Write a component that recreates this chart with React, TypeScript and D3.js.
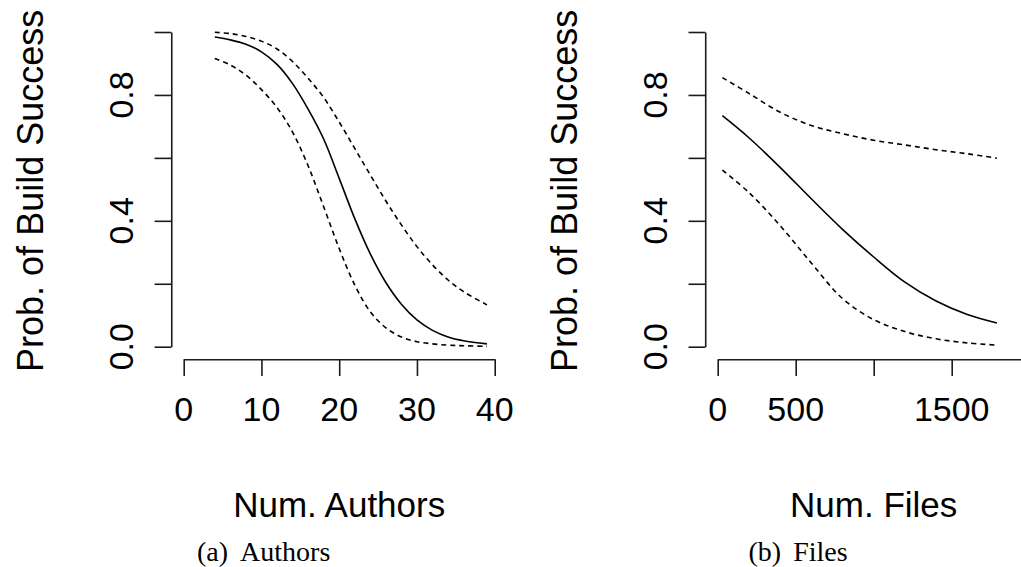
import React, { useEffect, useRef } from "react";
import * as d3 from "d3";

// left panel: number of authors
const authors = [4, 6, 8, 10, 12, 14, 16, 18, 20, 22, 24, 26, 28, 30, 32, 34, 36, 39];
const authorsFit = [0.984, 0.975, 0.961, 0.937, 0.897, 0.836, 0.755, 0.66, 0.535, 0.407, 0.295, 0.204, 0.135, 0.085, 0.052, 0.031, 0.019, 0.009];
const authorsUpper = [0.999, 0.995, 0.986, 0.971, 0.946, 0.906, 0.853, 0.792, 0.714, 0.63, 0.546, 0.463, 0.387, 0.318, 0.26, 0.212, 0.175, 0.133];
const authorsLower = [0.916, 0.895, 0.863, 0.817, 0.76, 0.682, 0.575, 0.445, 0.312, 0.196, 0.111, 0.06, 0.031, 0.016, 0.009, 0.005, 0.003, 0.001];

// right panel: number of files
const files = [30, 200, 400, 600, 800, 1000, 1200, 1400, 1600, 1790];
const filesFit = [0.734, 0.664, 0.57, 0.47, 0.373, 0.285, 0.205, 0.145, 0.102, 0.075];
const filesUpper = [0.855, 0.805, 0.745, 0.703, 0.677, 0.656, 0.641, 0.626, 0.613, 0.599];
const filesLower = [0.561, 0.49, 0.385, 0.266, 0.153, 0.086, 0.048, 0.025, 0.012, 0.005];

// ticks (R drops labels that would overlap)
const probTicks = [0, 0.2, 0.4, 0.6, 0.8, 1];
const probLabels = [0, 0.4, 0.8];
const authorTicks = [0, 10, 20, 30, 40];
const authorLabels = [0, 10, 20, 30, 40];
const fileTicks = [0, 500, 1000, 1500, 2000];
const fileLabels = [0, 500, 1500];

const SANS = "'Liberation Sans', Arial, Helvetica, sans-serif";
const SERIF = "'Liberation Serif', 'Times New Roman', serif";
const INK = "#1a1a1a";

type Panel = {
  xs: number[];
  fit: number[];
  upper: number[];
  lower: number[];
  xDomain: [number, number];
  xRange: [number, number];
  xTicks: number[];
  xLabels: number[];
  xTitle: string;
  caption: [string, string];
  captionX: number;
};

function drawPanel(svg: d3.Selection<SVGSVGElement, unknown, null, undefined>, p: Panel) {
  const x = d3.scaleLinear().domain(p.xDomain).range(p.xRange);
  const y = d3.scaleLinear().domain([0, 1]).range([346.7, 32]);

  // R style: plot region extends 4% beyond the axis limits
  const ext = (p.xDomain[1] - p.xDomain[0]) * 0.04;
  const left = x(p.xDomain[0] - ext);
  const right = x(p.xDomain[1] + ext);
  const bottom = y(-0.04);
  const midX = (left + right) / 2;
  const midY = (y(-0.04) + y(1.04)) / 2 + 1.5;

  const g = svg.append("g");

  // y axis
  const ya = g.append("g")
    .attr("transform", `translate(${left},0)`)
    .call(d3.axisLeft(y).tickValues(probTicks).tickSize(16.7).tickSizeOuter(0).tickFormat(() => ""));
  ya.selectAll("path, line").attr("stroke", INK).attr("stroke-width", 1.6);
  ya.selectAll(".tick text").remove();
  probLabels.forEach(v => {
    ya.append("text")
      .attr("transform", `translate(-38.7,${y(v)}) rotate(-90)`)
      .attr("text-anchor", "middle")
      .attr("font-family", SANS)
      .attr("font-size", 34)
      .attr("fill", "#000")
      .text(d3.format(".1f")(v));
  });

  // x axis
  const xa = g.append("g")
    .attr("transform", `translate(0,${bottom})`)
    .call(d3.axisBottom(x).tickValues(p.xTicks).tickSize(16.7).tickSizeOuter(0).tickFormat(() => ""));
  xa.selectAll("path, line").attr("stroke", INK).attr("stroke-width", 1.6);
  xa.selectAll(".tick text").remove();
  p.xLabels.forEach(v => {
    xa.append("text")
      .attr("x", x(v))
      .attr("y", 62)
      .attr("text-anchor", "middle")
      .attr("font-family", SANS)
      .attr("font-size", 34)
      .attr("fill", "#000")
      .text(String(v));
  });

  // axis titles
  g.append("text")
    .attr("transform", `translate(${left - 128.5},${midY}) rotate(-90)`)
    .attr("text-anchor", "middle")
    .attr("font-family", SANS)
    .attr("font-size", 36)
    .text("Prob. of Build Success");

  g.append("text")
    .attr("x", midX)
    .attr("y", 516.5)
    .attr("text-anchor", "middle")
    .attr("font-family", SANS)
    .attr("font-size", 35)
    .text(p.xTitle);

  // caption
  const cap = g.append("text")
    .attr("x", p.captionX)
    .attr("y", 561)
    .attr("font-family", SERIF)
    .attr("font-size", 28);
  cap.append("tspan").text(p.caption[0]);
  cap.append("tspan").attr("dx", 12).text(p.caption[1]);

  // curves
  const line = d3.line<number>()
    .x((_, i) => x(p.xs[i]))
    .y(d => y(d))
    .curve(d3.curveCatmullRom.alpha(0.5));

  const series: [number[], string | null][] = [
    [p.upper, "5,4"],
    [p.lower, "5,4"],
    [p.fit, null],
  ];
  series.forEach(([vals, dash]) => {
    g.append("path")
      .attr("d", line(vals))
      .attr("fill", "none")
      .attr("stroke", "#000")
      .attr("stroke-width", 1.6)
      .attr("stroke-dasharray", dash);
  });
}

export default function App() {
  const svgRef = useRef<SVGSVGElement>(null);

  useEffect(() => {
    const svg = d3.select(svgRef.current as SVGSVGElement);
    svg.selectAll("*").remove();

    drawPanel(svg, {
      xs: authors,
      fit: authorsFit,
      upper: authorsUpper,
      lower: authorsLower,
      xDomain: [0, 40],
      xRange: [183.7, 494.7],
      xTicks: authorTicks,
      xLabels: authorLabels,
      xTitle: "Num. Authors",
      caption: ["(a)", "Authors"],
      captionX: 197,
    });

    drawPanel(svg, {
      xs: files,
      fit: filesFit,
      upper: filesUpper,
      lower: filesLower,
      xDomain: [0, 2000],
      xRange: [717.7, 1029.7],
      xTicks: fileTicks,
      xLabels: fileLabels,
      xTitle: "Num. Files",
      caption: ["(b)", "Files"],
      captionX: 748.5,
    });
  }, []);

  return (
    <svg
      ref={svgRef}
      width={1021}
      height={567}
      style={{ position: "absolute", left: 0, top: 0, background: "#fff" }}
    />
  );
}
